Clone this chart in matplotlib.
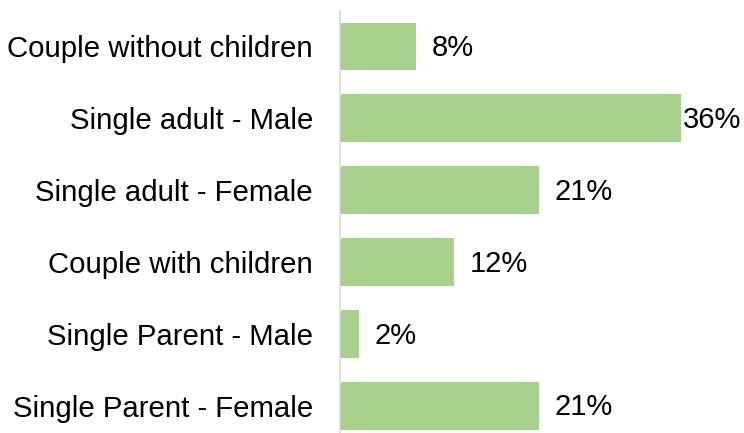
import matplotlib.pyplot as plt

# Household type shares
categories = ["Couple without children", "Single adult - Male", "Single adult - Female",
              "Couple with children", "Single Parent - Male", "Single Parent - Female"]
values = [0.08, 0.36, 0.21, 0.12, 0.02, 0.21]
labels = ["8%", "36%", "21%", "12%", "2%", "21%"]

plt.rcParams['font.family'] = ['Liberation Sans', 'DejaVu Sans']

W, H = 744, 433
fig = plt.figure(figsize=(W / 100, H / 100), dpi=100)
# axes placed in pixel terms: left edge at x=340, rows from y=10.5 to y=442
left, top, bottom = 340, 10.5, 442
ax = fig.add_axes([left / W, (H - bottom) / H, (W - left) / W, (bottom - top) / H])

pos = list(range(len(categories)))
ax.barh(pos, values, height=0.665, color='#A9D18E')
ax.set_ylim(len(categories) - 0.5, -0.5)
ax.set_xlim(0, (W - left) / 9.47 / 100)

ax.set_yticks(pos)
ax.set_yticklabels(categories, fontsize=21.2)
ax.tick_params(axis='y', length=0, pad=19.5)
ax.set_xticks([])
for s in ['top', 'right', 'bottom']:
    ax.spines[s].set_visible(False)
ax.spines['left'].set_color('#D9D9D9')
ax.spines['left'].set_linewidth(1.2)

# value labels outside the bar end; pulled back in if they run off the figure
fig.canvas.draw()
renderer = fig.canvas.get_renderer()
for y, v, lab in zip(pos, values, labels):
    t = ax.annotate(lab, (v, y), xytext=(11.5, -1), textcoords='offset points',
                    ha='left', va='center', fontsize=21, annotation_clip=False)
    bb = t.get_window_extent(renderer)
    if bb.x1 > W - 3:
        t.set_position((11.5 - (bb.x1 - (W - 3)) * 72 / 100, -1))

fig.savefig('out.png', dpi=100)
